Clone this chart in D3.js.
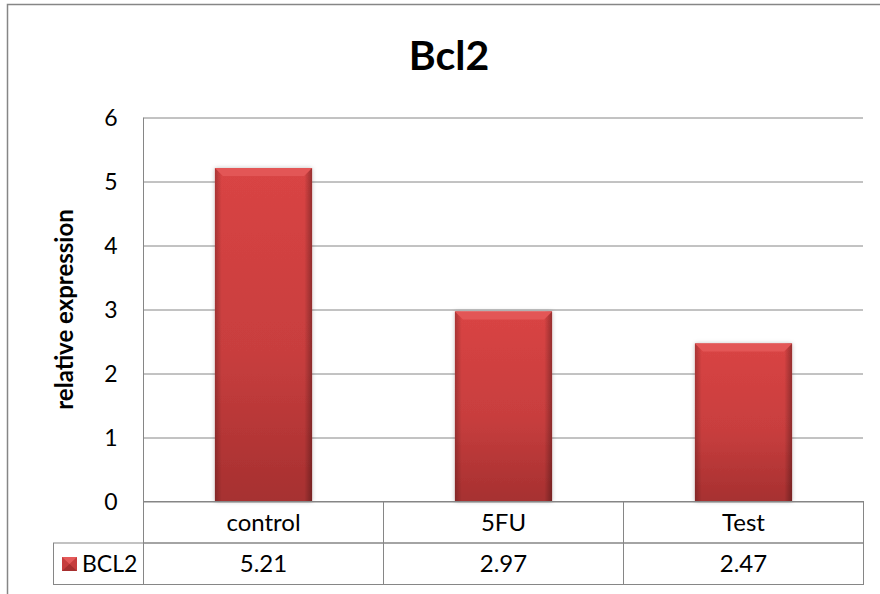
<!DOCTYPE html>
<meta charset="utf-8">
<style>
    body { margin: 0; background: #fff; }
    text { font-family: Lato, "Open Sans", sans-serif; fill: #000; }
    .grid line { stroke: #868686; stroke-width: 1; }
    .grid .domain { display: none; }
    .grid text { font-size: 23px; }
    .cell { fill: none; stroke: #868686; stroke-width: 1; }
</style>
<body>
<script src="https://cdnjs.cloudflare.com/ajax/libs/d3/7.8.5/d3.min.js"></script>
<script>
    // chart values
    var categories = ["control", "5FU", "Test"];
    var values = [5.21, 2.97, 2.47];
    var seriesName = "BCL2";
    var yTicks = [0, 1, 2, 3, 4, 5, 6];

    var width = 880, height = 594;
    var plotLeft = 143.5, plotRight = 863.5, plotTop = 117.5, plotBottom = 501.5;
    var rowH = 41.5;

    var svg = d3.select("body").append("svg")
        .attr("width", width)
        .attr("height", height);

    // gradients for the bevelled bars
    var defs = svg.append("defs");
    var vg = defs.append("linearGradient").attr("id", "barFill")
        .attr("x1", 0).attr("y1", 0).attr("x2", 0).attr("y2", 1);
    vg.append("stop").attr("offset", 0).attr("stop-color", "#d94444");
    vg.append("stop").attr("offset", 0.55).attr("stop-color", "#c83e3e");
    vg.append("stop").attr("offset", 1).attr("stop-color", "#a63030");

    var hg = defs.append("linearGradient").attr("id", "barEdge")
        .attr("x1", 0).attr("y1", 0).attr("x2", 1).attr("y2", 0);
    hg.append("stop").attr("offset", 0).attr("stop-color", "#000").attr("stop-opacity", 0.22);
    hg.append("stop").attr("offset", 0.07).attr("stop-color", "#000").attr("stop-opacity", 0);
    hg.append("stop").attr("offset", 0.92).attr("stop-color", "#000").attr("stop-opacity", 0);
    hg.append("stop").attr("offset", 1).attr("stop-color", "#000").attr("stop-opacity", 0.3);

    var sh = defs.append("filter").attr("id", "shadow")
        .attr("x", "-10%").attr("y", "-5%").attr("width", "120%").attr("height", "110%");
    sh.append("feDropShadow").attr("dx", 0).attr("dy", 0).attr("stdDeviation", 2)
        .attr("flood-color", "#000").attr("flood-opacity", 0.25);

    // outer chart border
    svg.append("rect")
        .attr("x", 7.5).attr("y", 4.5)
        .attr("width", 882).attr("height", 620)
        .attr("fill", "none")
        .attr("stroke", "#868686")
        .attr("stroke-width", 1.5);

    var x = d3.scaleBand().domain(categories).range([plotLeft, plotRight]).padding(0);
    var y = d3.scaleLinear().domain([0, 6]).range([plotBottom, plotTop]);

    // gridlines + tick labels
    svg.append("g")
        .attr("class", "grid")
        .attr("transform", "translate(" + plotLeft + ",0)")
        .call(d3.axisLeft(y).tickValues(yTicks).tickFormat(d3.format("d"))
            .tickSize(-(plotRight - 0.5 - plotLeft)).tickPadding(26))
        .selectAll("text").attr("dy", "0.36em");

    // left axis line down through the table
    svg.append("line")
        .attr("x1", plotLeft).attr("x2", plotLeft)
        .attr("y1", plotTop).attr("y2", plotBottom + 2 * rowH)
        .attr("stroke", "#868686");

    // bars
    var bw = x.bandwidth() * 0.405;
    var bars = svg.append("g").selectAll("g")
        .data(values)
        .enter().append("g")
        .attr("transform", function(d, i) {
            return "translate(" + (x(categories[i]) + x.bandwidth() / 2 - bw / 2) + ",0)";
        });

    bars.append("rect")
        .attr("y", function(d) { return y(d); })
        .attr("width", bw)
        .attr("height", function(d) { return plotBottom - y(d); })
        .attr("fill", "url(#barFill)")
        .attr("filter", "url(#shadow)");
    bars.append("rect")
        .attr("y", function(d) { return y(d); })
        .attr("width", bw)
        .attr("height", function(d) { return plotBottom - y(d); })
        .attr("fill", "url(#barEdge)");
    // top bevel
    bars.append("path")
        .attr("d", function(d) {
            var t = y(d), b = 8;
            return "M0," + t + "L" + bw + "," + t + "L" + (bw - b) + "," + (t + b) + "L" + b + "," + (t + b) + "Z";
        })
        .attr("fill", "#e35656");

    // data table
    var table = svg.append("g");
    var row1 = plotBottom, row2 = plotBottom + rowH;

    categories.forEach(function(c, i) {
        table.append("rect").attr("class", "cell")
            .attr("x", x(c)).attr("y", row1)
            .attr("width", x.bandwidth()).attr("height", rowH);
        table.append("rect").attr("class", "cell")
            .attr("x", x(c)).attr("y", row2)
            .attr("width", x.bandwidth()).attr("height", rowH);
        table.append("text")
            .attr("x", x(c) + x.bandwidth() / 2).attr("y", row1 + rowH / 2)
            .attr("dy", "0.36em").attr("text-anchor", "middle")
            .style("font-size", "24px")
            .text(c);
        table.append("text")
            .attr("x", x(c) + x.bandwidth() / 2).attr("y", row2 + rowH / 2)
            .attr("dy", "0.36em").attr("text-anchor", "middle")
            .style("font-size", "24px")
            .text(values[i].toFixed(2));
    });

    // legend cell
    table.append("rect").attr("class", "cell")
        .attr("x", 53.5).attr("y", row2)
        .attr("width", plotLeft - 53.5).attr("height", rowH);
    var lk = table.append("g").attr("transform", "translate(62," + (row2 + 14) + ")");
    lk.append("rect").attr("width", 15).attr("height", 14).attr("fill", "#c63d3d");
    lk.append("path").attr("d", "M0,0L15,0L7.5,7Z").attr("fill", "#e45a5a");
    lk.append("path").attr("d", "M0,14L15,14L7.5,7Z").attr("fill", "#a52f2f");
    table.append("text")
        .attr("x", 82).attr("y", row2 + rowH / 2)
        .attr("dy", "0.36em")
        .style("font-size", "23px")
        .text(seriesName);

    // title
    svg.append("text")
        .attr("x", 449).attr("y", 70)
        .attr("text-anchor", "middle")
        .style("font-size", "41px").style("font-weight", "bold")
        .text("Bcl2");

    // y axis title
    svg.append("text")
        .attr("transform", "translate(73," + ((plotTop + plotBottom) / 2) + ") rotate(-90)")
        .attr("text-anchor", "middle")
        .style("font-size", "24px").style("font-weight", "bold")
        .text("relative expression");
</script>
</body>
